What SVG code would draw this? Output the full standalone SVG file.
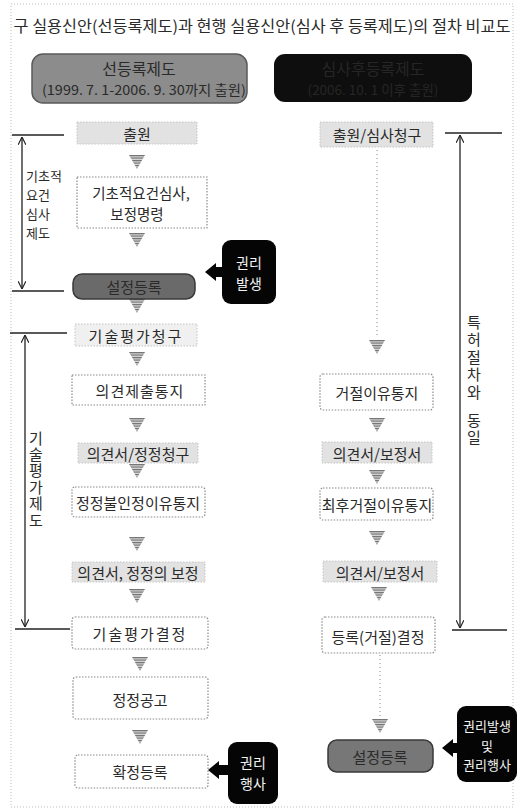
<svg xmlns="http://www.w3.org/2000/svg" xmlns:xlink="http://www.w3.org/1999/xlink" width="520" height="811" viewBox="0 0 520 811">
<style>
text{font-family:"Noto Sans CJK KR","Noto Sans",sans-serif;fill:#2a2a2a;text-anchor:middle;dominant-baseline:central}
.t{font-size:15px}
.w{fill:#fff;stroke:#8a8a8a;stroke-width:1.2;stroke-dasharray:1.5 1.5}
.s{fill:#e2e2e2;stroke:#c4c4c4;stroke-width:1;stroke-dasharray:1.5 1.5}
.dk{fill:#6a6a6a;stroke:#3a3a3a;stroke-width:1.5}
.bk{fill:#050505}
.bt{fill:#f2f2f2;font-size:14px}
.br{stroke:#222;stroke-width:1.3;fill:none}
.dot{stroke:#888;stroke-width:1;stroke-dasharray:1 3;fill:none}
.vt{font-size:15px;writing-mode:vertical-rl;text-orientation:upright;text-anchor:start}
</style>
<defs>
<pattern id="hatch" width="4" height="2.5" patternUnits="userSpaceOnUse">
<rect width="4" height="2.5" fill="#d8d8d8"/>
<rect width="4" height="1.2" fill="#707070"/>
</pattern>
<symbol id="dn" viewBox="0 0 16 14" width="16" height="14">
<polygon points="0,0 16,0 8,14" fill="url(#hatch)"/>
</symbol>
<marker id="tk" viewBox="0 0 8 8" refX="8" refY="4" markerWidth="6" markerHeight="6" orient="auto-start-reverse">
<path d="M0,0 L8,4 L0,8" fill="none" stroke="#222" stroke-width="1.2"/>
</marker>
</defs>

<rect x="11" y="4" width="502" height="803" fill="none" stroke="#bbb" stroke-width="1" stroke-dasharray="1 2"/>

<text id="title" x="262" y="25" style="font-size:15.5px" textLength="497" lengthAdjust="spacingAndGlyphs">구 실용신안(선등록제도)과 현행 실용신안(심사 후 등록제도)의 절차 비교도</text>

<g id="hdr-left">
<rect x="32" y="54" width="215" height="49" rx="11" fill="#8c8c8c" stroke="#5a5a5a" stroke-width="1.5"/>
<text x="139" y="68" style="font-size:16px">선등록제도</text>
<text x="144" y="89" style="font-size:13.5px" textLength="204" lengthAdjust="spacingAndGlyphs">(1999. 7. 1-2006. 9. 30까지 출원)</text>
</g>
<g id="hdr-right">
<rect x="274" y="54" width="198" height="48" rx="11" fill="#0e0e0e"/>
<text x="373" y="68" style="font-size:16px;fill:#262626">심사후등록제도</text>
<text x="373" y="89" style="font-size:13.5px;fill:#262626">(2006. 10. 1 이후 출원)</text>
</g>

<g id="connectors">
<use xlink:href="#dn" x="129" y="155"/>
<use xlink:href="#dn" x="129" y="233"/>
<use xlink:href="#dn" x="129" y="299"/>
<use xlink:href="#dn" x="129" y="352"/>
<use xlink:href="#dn" x="129" y="418"/>
<use xlink:href="#dn" x="129" y="464"/>
<use xlink:href="#dn" x="129" y="537"/>
<use xlink:href="#dn" x="129" y="589"/>
<use xlink:href="#dn" x="132" y="657"/>
<use xlink:href="#dn" x="132" y="730"/>
<line class="dot" x1="377" y1="150" x2="377" y2="336"/>
<use xlink:href="#dn" x="369" y="340"/>
<use xlink:href="#dn" x="369" y="418"/>
<use xlink:href="#dn" x="369" y="470"/>
<use xlink:href="#dn" x="369" y="531"/>
<use xlink:href="#dn" x="371" y="587"/>
<line class="dot" x1="380" y1="655" x2="380" y2="717"/>
<use xlink:href="#dn" x="372" y="719"/>
<polygon points="205,272 216,263 216,267 223,267 223,277 216,277 216,281" fill="#050505"/>
<polygon points="208,770 219,761 219,765 229,765 229,775 219,775 219,779" fill="#050505"/>
<polygon points="442,748 453,739 453,743 458,743 458,753 453,753 453,757" fill="#050505"/>
</g>

<g id="bracket-basic">
<line class="br" x1="12" y1="135" x2="64" y2="135"/>
<line class="br" x1="12" y1="291" x2="64" y2="291"/>
<line class="br" x1="22" y1="137" x2="22" y2="289" marker-start="url(#tk)" marker-end="url(#tk)"/>
<text style="font-size:13px;text-anchor:start"><tspan x="26" y="175">기초적</tspan><tspan x="26" y="194">요건</tspan><tspan x="26" y="213">심사</tspan><tspan x="26" y="232">제도</tspan></text>
</g>
<g id="bracket-eval">
<line class="br" x1="10" y1="333" x2="67" y2="333"/>
<line class="br" x1="15" y1="629" x2="70" y2="629"/>
<line class="br" x1="25" y1="335" x2="25" y2="627" marker-start="url(#tk)" marker-end="url(#tk)"/>
<text class="vt" x="36" y="430.5" letter-spacing="1.4">기술평가제도</text>
</g>
<g id="bracket-patent">
<line class="br" x1="445" y1="133" x2="502" y2="133"/>
<line class="br" x1="452" y1="630" x2="507" y2="630"/>
<line class="br" x1="460" y1="135" x2="460" y2="628" marker-start="url(#tk)" marker-end="url(#tk)"/>
<text class="vt" x="474" y="314.5" letter-spacing="2.5">특허절차와</text>
<text class="vt" x="474" y="412.5" letter-spacing="2">동일</text>
</g>

<g id="n-apply"><rect class="s" x="77" y="122" width="120" height="22"/><text class="t" x="137" y="133">출원</text></g>
<g id="n-basic"><rect class="w" x="77" y="177" width="130" height="51"/><text style="font-size:14.5px"><tspan x="141" y="192">기초적요건심사,</tspan><tspan x="137" y="213">보정명령</tspan></text></g>
<g id="n-reg-left"><rect class="dk" x="73" y="274" width="122" height="25" rx="9"/><text class="t" x="134" y="286">설정등록</text></g>
<g id="n-right-arise"><rect class="bk" x="222" y="240" width="54" height="64" rx="9"/><text class="bt"><tspan x="249" y="262">권리</tspan><tspan x="249" y="283">발생</tspan></text></g>
<g id="n-evalreq"><rect class="s" x="75" y="324" width="122" height="22" style="fill:#f0f0f0"/><text class="t" x="136" y="335" letter-spacing="2">기술평가청구</text></g>
<g id="n-opnotice"><rect class="w" x="72" y="375" width="133" height="30"/><text class="t" x="140" y="390" letter-spacing="1">의견제출통지</text></g>
<g id="n-opcorr"><rect class="s" x="78" y="443" width="120" height="20"/><text class="t" x="138" y="453">의견서/정정청구</text></g>
<g id="n-corrreject"><rect class="w" x="72" y="487" width="133" height="30" rx="3"/><text class="t" x="138" y="502">정정불인정이유통지</text></g>
<g id="n-opamend"><rect class="s" x="72" y="562" width="133" height="20"/><text class="t" x="138" y="572">의견서, 정정의 보정</text></g>
<g id="n-evaldec"><rect class="w" x="72" y="617" width="136" height="32" rx="3"/><text class="t" x="140" y="633" letter-spacing="2">기술평가결정</text></g>
<g id="n-corrpub"><rect class="w" x="73" y="677" width="135" height="42" rx="3"/><text class="t" x="140" y="699">정정공고</text></g>
<g id="n-final"><rect class="w" x="75" y="755" width="133" height="33" rx="3"/><text class="t" x="140" y="771">확정등록</text></g>
<g id="n-right-exercise"><rect class="bk" x="228" y="742" width="50" height="62" rx="9"/><text class="bt"><tspan x="253" y="762">권리</tspan><tspan x="253" y="783">행사</tspan></text></g>

<g id="n-apply-exam"><rect class="s" x="320" y="122" width="113" height="25"/><text class="t" x="377" y="134">출원/심사청구</text></g>
<g id="n-reject"><rect class="w" x="320" y="374" width="113" height="36" rx="3"/><text class="t" x="377" y="392">거절이유통지</text></g>
<g id="n-opamend-r1"><rect class="s" x="322" y="442" width="110" height="21"/><text class="t" x="377" y="453">의견서/보정서</text></g>
<g id="n-finalreject"><rect class="w" x="320" y="488" width="113" height="32" rx="3"/><text class="t" x="377" y="504">최후거절이유통지</text></g>
<g id="n-opamend-r2"><rect class="s" x="323" y="561" width="114" height="21"/><text class="t" x="380" y="572">의견서/보정서</text></g>
<g id="n-regdec"><rect class="w" x="322" y="617" width="113" height="36" rx="3"/><text class="t" x="378" y="636">등록(거절)결정</text></g>
<g id="n-reg-right"><rect class="dk" x="328" y="740" width="105" height="32" rx="9" style="fill:#777"/><text class="t" x="380" y="756">설정등록</text></g>
<g id="n-right-both"><rect class="bk" x="457" y="706" width="60" height="76" rx="9"/><text class="bt" style="font-size:13px"><tspan x="487" y="725">권리발생</tspan><tspan x="487" y="744.5">및</tspan><tspan x="487" y="764">권리행사</tspan></text></g>
</svg>
